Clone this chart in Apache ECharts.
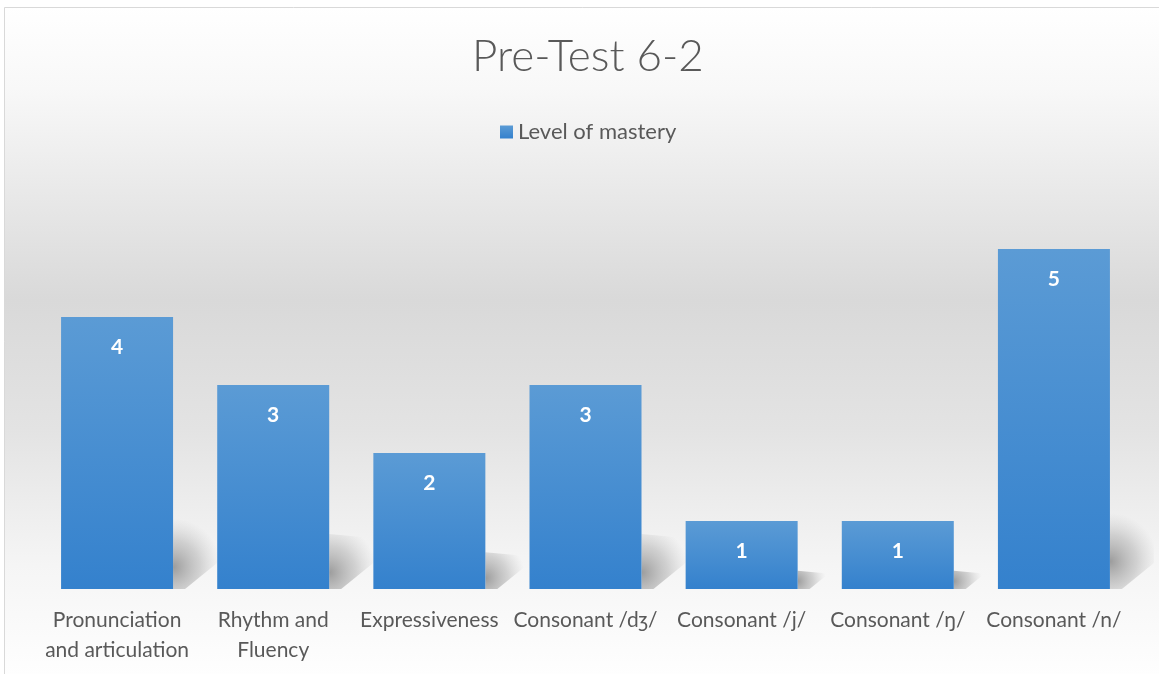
<!DOCTYPE html>
<html>
<head>
<meta charset="utf-8">
<script src="https://cdn.jsdelivr.net/npm/echarts@6/dist/echarts.min.js"></script>
<style>
  html, body { margin: 0; padding: 0; background: #fff; }
  #myChart { width: 1159px; height: 674px; }
</style>
</head>
<body>
<div id="myChart"></div>
<script>
// data
var categories = [
    'Pronunciation\nand articulation',
    'Rhythm and\nFluency',
    'Expressiveness',
    'Consonant /dʒ/',
    'Consonant /j/',
    'Consonant /ŋ/',
    'Consonant /n/'
];
var seriesName = 'Level of mastery';
var values = [4, 3, 2, 3, 1, 1, 5];

var FONT = 'Lato, "Open Sans", sans-serif';
var TEXT_COLOR = '#595959';
var BAR_WIDTH = 112;

var myChart = echarts.init(document.getElementById('myChart'));

// soft floor shadow on the right of each bar
function renderShadow(params, api) {
    var top = api.coord([api.value(0), api.value(1)]);
    var bottom = api.coord([api.value(0), 0]);
    var xr = bottom[0] + BAR_WIDTH / 2;
    var h = bottom[1] - top[1];
    var s = h * 0.27;
    return {
        type: 'polygon',
        shape: {
            points: [
                [xr, bottom[1]],
                [xr, bottom[1] - s],
                [xr + 44, bottom[1] - s + 4],
                [xr + 44, bottom[1] - 26],
                [xr + 12, bottom[1]]
            ]
        },
        style: {
            fill: new echarts.graphic.RadialGradient(0, 0.7, 1.1, [
                { offset: 0, color: 'rgba(140,140,140,0.85)' },
                { offset: 0.55, color: 'rgba(165,165,165,0.45)' },
                { offset: 1, color: 'rgba(190,190,190,0)' }
            ])
        }
    };
}

var option = {
    backgroundColor: '#fff',
    animation: false,
    graphic: [{
        type: 'rect',
        z: -10,
        silent: true,
        shape: { x: 4.5, y: 7.5, width: 1170, height: 680 },
        style: {
            stroke: '#d9d9d9',
            lineWidth: 1,
            fill: new echarts.graphic.LinearGradient(0, 0, 0, 1, [
                { offset: 0, color: '#ffffff' },
                { offset: 0.12, color: '#f8f8f8' },
                { offset: 0.26, color: '#eaeaea' },
                { offset: 0.43, color: '#d9d9d9' },
                { offset: 0.62, color: '#e3e3e3' },
                { offset: 0.82, color: '#f5f5f5' },
                { offset: 1, color: '#ffffff' }
            ])
        }
    }],
    title: {
        text: 'Pre-Test 6-2',
        left: 467,
        top: 30,
        textStyle: {
            fontFamily: FONT,
            fontSize: 44,
            fontWeight: 300,
            color: TEXT_COLOR
        }
    },
    legend: {
        data: [seriesName],
        top: 116,
        left: 495,
        itemWidth: 13,
        itemHeight: 13,
        itemGap: 6,
        icon: 'rect',
        textStyle: {
            fontFamily: FONT,
            fontSize: 22,
            color: TEXT_COLOR
        }
    },
    grid: {
        left: 39,
        right: 27,
        top: 181,
        bottom: 85,
        containLabel: false
    },
    xAxis: {
        type: 'category',
        data: categories,
        axisLine: { show: false },
        axisTick: { show: false },
        axisLabel: {
            interval: 0,
            margin: 16,
            fontFamily: FONT,
            fontSize: 21,
            lineHeight: 30,
            color: TEXT_COLOR
        }
    },
    yAxis: {
        type: 'value',
        min: 0,
        max: 6,
        show: false,
        splitLine: { show: false }
    },
    series: [
        {
            type: 'custom',
            silent: true,
            z: 1,
            renderItem: renderShadow,
            data: values.map(function (v, i) { return [i, v]; })
        },
        {
            name: seriesName,
            type: 'bar',
            z: 2,
            barWidth: BAR_WIDTH,
            data: values,
            itemStyle: {
                color: new echarts.graphic.LinearGradient(0, 0, 0, 1, [
                    { offset: 0, color: '#5b9bd5' },
                    { offset: 1, color: '#3481cd' }
                ])
            },
            label: {
                show: true,
                position: 'insideTop',
                distance: 20,
                color: '#ffffff',
                fontFamily: FONT,
                fontSize: 21,
                fontWeight: 'bold'
            }
        }
    ]
};

myChart.setOption(option);
</script>
</body>
</html>
